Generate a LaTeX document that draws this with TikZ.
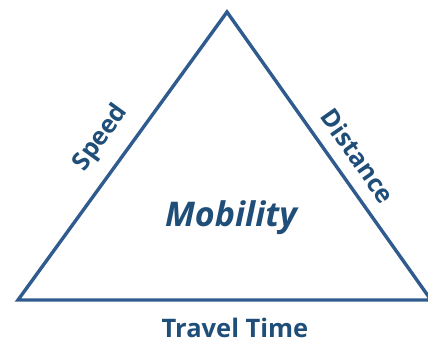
\documentclass[tikz,border=0pt]{standalone}
\usepackage{fontspec}
\setmainfont{Open Sans}
\definecolor{edgeblue}{HTML}{2F5B8F}
\definecolor{labelblue}{HTML}{1F4E79}
\begin{document}
\begin{tikzpicture}[x=1pt,y=-1pt,
  side/.style={draw=edgeblue,line width=3.4pt,line join=miter},
  lbl/.style={text=labelblue,font=\bfseries\fontsize{25}{28}\selectfont,inner sep=0pt}]
\useasboundingbox (0,0) rectangle (428,341);
% corners of the triangle
\coordinate (top) at (227,12);
\coordinate (bl) at (18,300);
\coordinate (br) at (431,300);
\draw[side] (bl) -- (top) -- (br) -- cycle;
% side labels
\node[lbl,rotate=54] (speed) at (101,138) {Speed};
\node[lbl,rotate=-55] (dist) at (358,156) {Distance};
\node[lbl,font=\bfseries\itshape\fontsize{34}{38}\selectfont] (mob) at (231,218) {Mobility};
\node[lbl,font=\bfseries\fontsize{25.5}{28}\selectfont] (tt) at (235,328) {Travel Time};
\end{tikzpicture}
\end{document}
